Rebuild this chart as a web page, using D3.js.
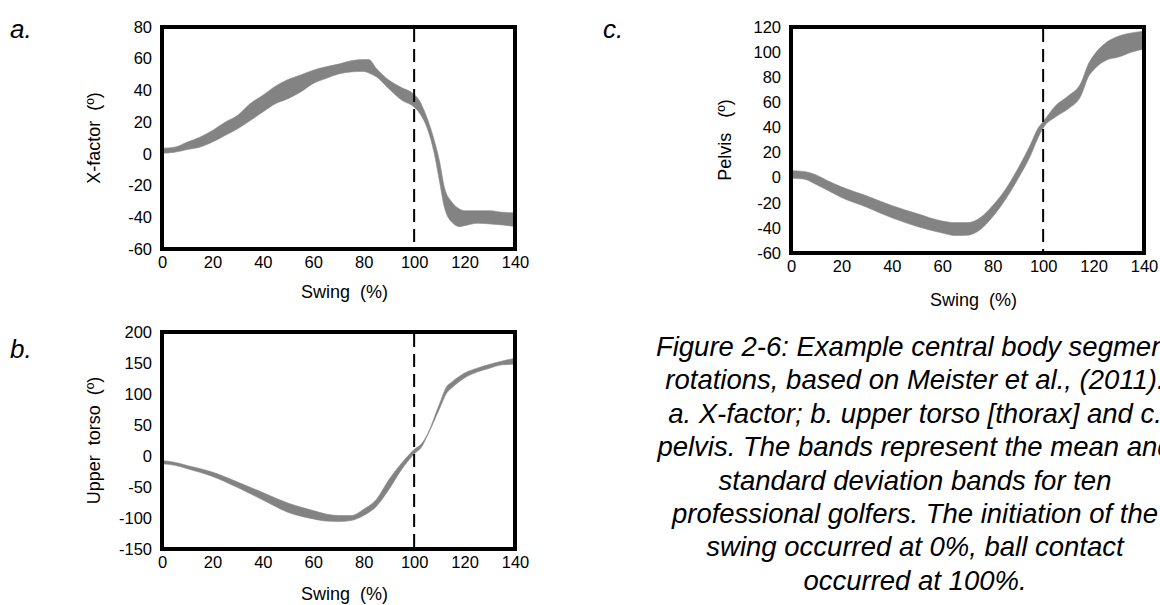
<!DOCTYPE html>
<html>
<head>
<meta charset="utf-8">
<script src="https://cdn.jsdelivr.net/npm/d3@7"></script>
<style>
  body { margin: 0; background: #fff; }
  svg { display: block; font-family: "Liberation Sans", Arial, sans-serif; }
  .lbl { white-space: pre; }
</style>
</head>
<body>
<svg id="fig" width="1160" height="605"></svg>
<script>
// Panel a: X-factor (deg), mean +/- SD band
var aSwing = [0, 5, 10, 15, 20, 25, 30, 35, 40, 45, 50, 55, 60, 65, 70, 75, 80, 82, 85, 90, 95, 100, 102, 105, 108, 110, 112, 115, 118, 120, 125, 130, 135, 140];
var aUpper = [3.6, 4.2, 7.4, 10.5, 14.8, 20, 24.3, 31.7, 37, 42.7, 46.9, 49.8, 52.8, 54.9, 56.6, 58.7, 59.5, 59.5, 53.9, 46.5, 41.8, 37.5, 33.8, 23.2, 8.4, -4.2, -21, -30.5, -34.7, -35.8, -35.8, -35.8, -36.8, -37.2];
var aLower = [0.4, 1, 2.7, 4.2, 7.4, 11.6, 15.8, 21, 26.4, 31.6, 34.8, 39, 44.4, 47.5, 50.3, 51.7, 52, 51, 48.6, 41, 33.9, 29.5, 26, 16.9, 0, -16.9, -33.7, -43.2, -45.9, -45.3, -43.8, -44.2, -44.8, -45.9];

// Panel b: upper torso
var bSwing = [0, 5, 10, 20, 30, 40, 50, 60, 65, 70, 75, 80, 85, 90, 95, 100, 103, 105, 110, 113, 115, 120, 125, 130, 135, 140];
var bUpper = [-7.4, -10, -15.3, -26, -42, -59, -76, -88, -93.6, -96, -96, -85.7, -70, -38, -11.6, 10.6, 20, 33, 83.6, 112.6, 119.5, 133.8, 141.7, 148, 153.4, 157.6];
var bLower = [-12.7, -15, -20.6, -33, -51, -71, -91, -101.5, -105, -105.8, -104, -96, -81.4, -54, -22, 3.2, 14.8, 30.7, 75.6, 102, 110, 125.9, 135.4, 141.7, 147, 148];

// Panel c: pelvis
var cSwing = [0, 5, 10, 15, 20, 30, 40, 50, 60, 65, 70, 75, 80, 85, 90, 95, 98, 100, 105, 110, 115, 118, 120, 125, 130, 135, 140];
var cUpper = [5.6, 5, 2.2, -2.9, -7.3, -14.5, -22.2, -28.6, -34.6, -35.8, -35.8, -32, -22.2, -9.4, 7.4, 26.6, 39.5, 44.6, 57.5, 65.2, 75.5, 90.9, 97.3, 107.6, 112.8, 115.3, 116.6];
var cLower = [-0.4, -1.1, -5.5, -10.6, -15.8, -23.5, -32, -38.9, -44.1, -46.1, -45.9, -41.5, -31.2, -17.6, -1.1, 17.6, 31.8, 39.5, 48.5, 54.9, 65.2, 80.6, 85.8, 93.5, 96.1, 99.9, 102.5];

var xTicks = [0, 20, 40, 60, 80, 100, 120, 140];
var aTicks = [80, 60, 40, 20, 0, -20, -40, -60];
var bTicks = [200, 150, 100, 50, 0, -50, -100, -150];
var cTicks = [120, 100, 80, 60, 40, 20, 0, -20, -40, -60];
var contactAt = 100;

var caption = [
  'Figure 2-6: Example central body segment',
  'rotations, based on Meister et al., (2011).',
  'a. X-factor; b. upper torso [thorax] and c.',
  'pelvis. The bands represent the mean and',
  'standard deviation bands for ten',
  'professional golfers. The initiation of the',
  'swing occurred at 0%, ball contact',
  'occurred at 100%.'
];

var svg = d3.select('#fig');

// draw one framed panel with its band
function panel(opt) {
  var x = d3.scaleLinear().domain([0, 140]).range([opt.x0, opt.x1]);
  var y = d3.scaleLinear().domain(opt.ydom).range([opt.y1, opt.y0]);
  var g = svg.append('g');

  g.append('clipPath').attr('id', 'clip-' + opt.id)
    .append('rect')
      .attr('x', opt.x0).attr('y', opt.y0)
      .attr('width', opt.x1 - opt.x0).attr('height', opt.y1 - opt.y0);

  var rows = opt.swing.map(function (s, i) {
    return { s: s, hi: opt.upper[i], lo: opt.lower[i] };
  });

  var area = d3.area()
    .x(function (d) { return x(d.s); })
    .y0(function (d) { return y(d.lo); })
    .y1(function (d) { return y(d.hi); })
    .curve(d3.curveMonotoneX);

  g.append('path')
    .datum(rows)
    .attr('clip-path', 'url(#clip-' + opt.id + ')')
    .attr('d', area)
    .attr('fill', '#838383')
    .attr('stroke', '#8c8c8c')
    .attr('stroke-width', 0.6);

  // ball contact
  g.append('line')
    .attr('x1', x(contactAt)).attr('x2', x(contactAt))
    .attr('y1', opt.y0 + 2).attr('y2', opt.y1 - 2)
    .attr('stroke', '#000')
    .attr('stroke-width', 2)
    .attr('stroke-dasharray', '13,7');

  g.append('rect')
    .attr('x', opt.x0).attr('y', opt.y0)
    .attr('width', opt.x1 - opt.x0).attr('height', opt.y1 - opt.y0)
    .attr('fill', 'none')
    .attr('stroke', '#000')
    .attr('stroke-width', 4);

  var xAxis = g.append('g')
    .attr('transform', 'translate(0,' + (opt.y1 + 7) + ')')
    .call(d3.axisBottom(x).tickValues(xTicks).tickFormat(String).tickSize(0).tickPadding(0));
  var yAxis = g.append('g')
    .attr('transform', 'translate(' + (opt.x0 - 10) + ',0)')
    .call(d3.axisLeft(y).tickValues(opt.yticks).tickFormat(String).tickSize(0).tickPadding(0));

  [xAxis, yAxis].forEach(function (ax) {
    ax.select('.domain').remove();
    ax.selectAll('text')
      .attr('fill', '#000')
      .style('font-size', '16.5px')
      .style('font-family', '"Liberation Sans", Arial, sans-serif');
  });

  g.append('text')
    .attr('class', 'lbl')
    .attr('x', (opt.x0 + opt.x1) / 2 + 6)
    .attr('y', opt.xlabY)
    .attr('text-anchor', 'middle')
    .style('font-size', '18px')
    .text('Swing  (%)');

  g.append('text')
    .attr('class', 'lbl')
    .attr('transform', 'translate(' + opt.ylabX + ',' + (opt.y0 + opt.y1) / 2 + ') rotate(-90)')
    .attr('text-anchor', 'middle')
    .style('font-size', '18px')
    .text(opt.ylab);

  svg.append('text')
    .attr('x', opt.tagX).attr('y', opt.tagY)
    .style('font-size', '26px')
    .style('font-style', 'italic')
    .text(opt.tag);
}

panel({ id: 'a', x0: 162, x1: 515, y0: 27, y1: 249, ydom: [-60, 80], yticks: aTicks,
  swing: aSwing, upper: aUpper, lower: aLower, ylab: 'X-factor  (º)', ylabX: 100, xlabY: 298,
  tag: 'a.', tagX: 10, tagY: 38 });
panel({ id: 'b', x0: 162, x1: 515, y0: 332, y1: 549, ydom: [-150, 200], yticks: bTicks,
  swing: bSwing, upper: bUpper, lower: bLower, ylab: 'Upper  torso  (º)', ylabX: 100, xlabY: 600,
  tag: 'b.', tagX: 10, tagY: 358 });
panel({ id: 'c', x0: 791, x1: 1144, y0: 27, y1: 253, ydom: [-60, 120], yticks: cTicks,
  swing: cSwing, upper: cUpper, lower: cLower, ylab: 'Pelvis   (º)', ylabX: 731, xlabY: 306,
  tag: 'c.', tagX: 603, tagY: 38 });

svg.append('g').selectAll('text')
  .data(caption)
  .join('text')
    .attr('x', 915)
    .attr('y', function (d, i) { return 356 + i * 33.4; })
    .attr('text-anchor', 'middle')
    .style('font-size', '27.5px')
    .style('font-style', 'italic')
    .text(function (d) { return d; });
</script>
</body>
</html>
